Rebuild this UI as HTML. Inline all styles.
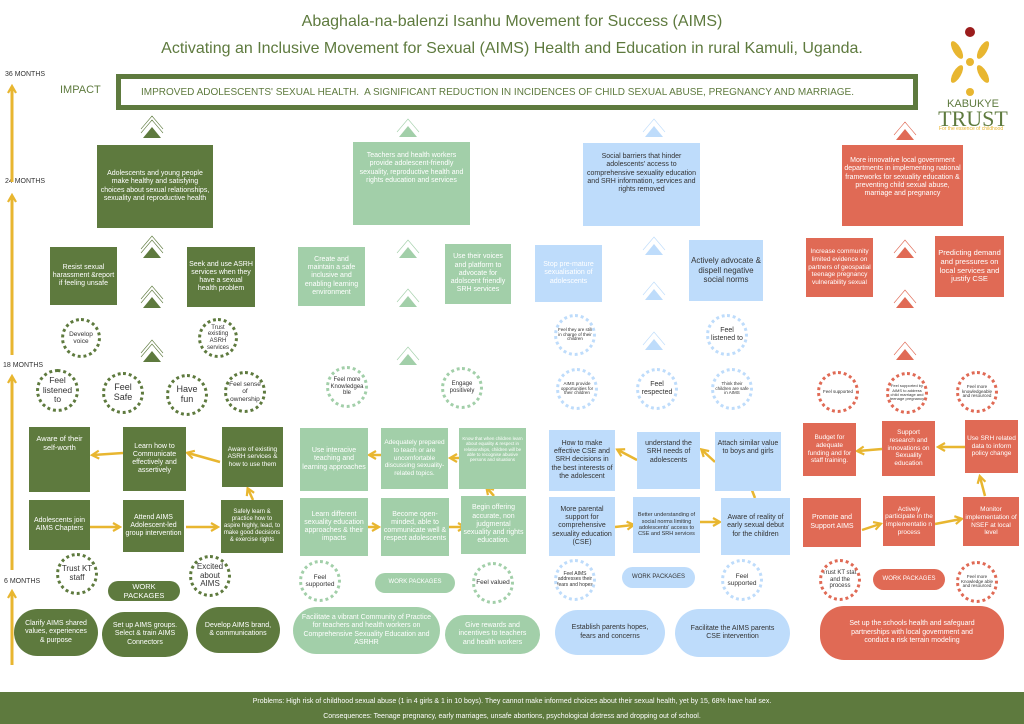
<!DOCTYPE html>
<html><head><meta charset="utf-8"><style>
*{margin:0;padding:0;box-sizing:border-box}
body{width:1024px;height:724px;background:#fff;position:relative;overflow:hidden;font-family:"Liberation Sans Narrow","Liberation Sans",sans-serif}
.b{position:absolute;display:flex;align-items:center;justify-content:center;text-align:center;color:#fff;font-size:7px;line-height:1.18;padding:2px;overflow:hidden}
.g{background:#5e7a3e}.lg{background:#a2cfa9}.bl{background:#bedcfb;color:#333}.r{background:#e06a55}
.c{position:absolute;border-radius:50%;display:flex;align-items:center;justify-content:center;text-align:center;font-size:7px;line-height:1.1;color:#333;border:3px dotted;overflow:hidden}
.cg{border-color:#5e7a3e}.clg{border-color:#a2cfa9}.cbl{border-color:#bedcfb}.cr{border-color:#e06a55}
.p{position:absolute;border-radius:24px;display:flex;align-items:center;justify-content:center;text-align:center;color:#fff;font-size:7px;line-height:1.2;padding:0 8px}
.t{position:absolute;font-size:8px;color:#333}
</style></head><body>
<div style="position:absolute;left:0;width:1024px;top:13px;text-align:center;color:#5e7a3e;font-size:16px">Abaghala-na-balenzi Isanhu Movement for Success (AIMS)</div>
<div style="position:absolute;left:0;width:1024px;top:40px;text-align:center;color:#5e7a3e;font-size:16px">Activating an Inclusive Movement for Sexual (AIMS) Health and Education in rural Kamuli, Uganda.</div>
<div class="t" style="left:5px;top:71px;font-size:7px">36 MONTHS</div>
<div class="t" style="left:60px;top:84px;font-size:11px;color:#5e7a3e">IMPACT</div>
<div style="position:absolute;left:116px;top:74px;width:802px;height:36px;border:5px solid #5e7a3e;display:flex;align-items:center;padding-left:20px;color:#5e7a3e;font-size:10px">IMPROVED ADOLESCENTS' SEXUAL HEALTH.&nbsp; A SIGNIFICANT REDUCTION IN INCIDENCES OF CHILD SEXUAL ABUSE, PREGNANCY AND MARRIAGE.</div>
<div class="t" style="left:5px;top:178px;font-size:7px">24 MONTHS</div>
<div class="t" style="left:3px;top:362px;font-size:7px">18 MONTHS</div>
<div class="t" style="left:4px;top:578px;font-size:7px">6 MONTHS</div>

<svg style="position:absolute;left:0;top:0" width="1024" height="724">
<defs><marker id="a" markerUnits="userSpaceOnUse" markerWidth="10" markerHeight="10" refX="7" refY="5" orient="auto"><path d="M1,1 L8,5 L1,9" fill="none" stroke="#e8b630" stroke-width="2.2"/></marker></defs>
<g stroke="#e8b630" stroke-width="3" fill="none" marker-end="url(#a)">
<line x1="12" y1="182" x2="12" y2="87"/><line x1="12" y1="355" x2="12" y2="196"/><line x1="12" y1="570" x2="12" y2="377"/><line x1="12" y1="665" x2="12" y2="592"/>
</g>
<g stroke="#e8b630" stroke-width="2.5" fill="none" marker-end="url(#a)">
<line x1="90" y1="527" x2="119" y2="527"/><line x1="186" y1="527" x2="217" y2="527"/><line x1="253" y1="500" x2="248" y2="489"/><line x1="220" y1="462" x2="188" y2="453"/><line x1="123" y1="453" x2="93" y2="455"/>
<line x1="368" y1="527" x2="378" y2="527"/><line x1="449" y1="527" x2="464" y2="527"/><line x1="494" y1="496" x2="487" y2="488"/><line x1="459" y1="458" x2="451" y2="458"/><line x1="381" y1="455" x2="370" y2="455"/>
<line x1="615" y1="527" x2="633" y2="525"/><line x1="700" y1="522" x2="719" y2="522"/><line x1="755" y1="498" x2="748" y2="480"/><line x1="715" y1="462" x2="702" y2="450"/><line x1="637" y1="460" x2="618" y2="450"/>
<line x1="862" y1="530" x2="880" y2="524"/><line x1="935" y1="524" x2="961" y2="519"/><line x1="985" y1="496" x2="980" y2="477"/><line x1="965" y1="447" x2="939" y2="447"/><line x1="882" y1="449" x2="858" y2="451"/>
</g>
<g fill="#5e7a3e"><path d="M143,138 L152,127 L161,138Z"/><path d="M143,258 L152,247 L161,258Z"/><path d="M143,308 L152,297 L161,308Z"/><path d="M143,362 L152,351 L161,362Z"/></g>
<path d="M141,133 L152,120 L163,133 M141,129 L152,116 L163,129 M141,253 L152,240 L163,253 M141,249 L152,236 L163,249 M141,303 L152,290 L163,303 M141,299 L152,286 L163,299 M141,357 L152,344 L163,357 M141,353 L152,340 L163,353" fill="none" stroke="#5e7a3e" stroke-width="0.6"/>
<g fill="#a2cfa9"><path d="M399,137 L408,126 L417,137Z"/><path d="M399,258 L408,247 L417,258Z"/><path d="M399,307 L408,296 L417,307Z"/><path d="M399,365 L408,354 L417,365Z"/></g>
<path d="M397,132 L408,119 L419,132 M397,253 L408,240 L419,253 M397,302 L408,289 L419,302 M397,360 L408,347 L419,360" fill="none" stroke="#a2cfa9" stroke-width="0.6"/>
<g fill="#bedcfb"><path d="M645,137 L654,126 L663,137Z"/><path d="M645,255 L654,244 L663,255Z"/><path d="M645,300 L654,289 L663,300Z"/><path d="M645,350 L654,339 L663,350Z"/></g>
<path d="M643,132 L654,119 L665,132 M643,250 L654,237 L665,250 M643,295 L654,282 L665,295 M643,345 L654,332 L665,345" fill="none" stroke="#bedcfb" stroke-width="0.6"/>
<g fill="#e06a55"><path d="M896,140 L905,129 L914,140Z"/><path d="M896,258 L905,247 L914,258Z"/><path d="M896,308 L905,297 L914,308Z"/><path d="M896,360 L905,349 L914,360Z"/></g>
<path d="M894,135 L905,122 L916,135 M894,253 L905,240 L916,253 M894,303 L905,290 L916,303 M894,355 L905,342 L916,355" fill="none" stroke="#e06a55" stroke-width="0.6"/>
<circle cx="970" cy="32" r="5" fill="#9b1c1c"/>
<g fill="#e8b630"><ellipse cx="957" cy="50" rx="4" ry="10" transform="rotate(-30 957 50)"/><ellipse cx="983" cy="50" rx="4" ry="10" transform="rotate(30 983 50)"/><ellipse cx="957" cy="74" rx="4" ry="10" transform="rotate(30 957 74)"/><ellipse cx="983" cy="74" rx="4" ry="10" transform="rotate(-30 983 74)"/><circle cx="970" cy="62" r="4"/><circle cx="970" cy="92" r="4"/></g>
</svg>
<div style="position:absolute;left:940px;top:98px;width:66px;text-align:center;color:#5e7a3e;font-size:11px">KABUKYE</div>
<div style="position:absolute;left:932px;top:106px;width:82px;text-align:center;color:#5e7a3e;font-size:22px;font-family:'Liberation Serif',serif">TRUST</div>
<div style="position:absolute;left:926px;top:126px;width:90px;text-align:center;color:#e8b630;font-size:5px">For the essence of childhood</div>

<!-- col1 -->
<div class="b g" style="left:97px;top:145px;width:116px;height:83px">Adolescents and young people make healthy and satisfying choices about sexual relationships, sexuality and reproductive health</div>
<div class="b g" style="left:50px;top:247px;width:67px;height:58px">Resist sexual harassment &amp;report if feeling unsafe</div>
<div class="b g" style="left:187px;top:247px;width:68px;height:60px">Seek and use ASRH services when they have a sexual health problem</div>
<div class="c cg" style="left:61px;top:318px;width:40px;height:40px;font-size:6.5px">Develop voice</div>
<div class="c cg" style="left:198px;top:318px;width:40px;height:40px;font-size:6px">Trust existing ASRH services</div>
<div class="c cg" style="left:36px;top:369px;width:43px;height:43px;font-size:8.5px">Feel listened to</div>
<div class="c cg" style="left:102px;top:372px;width:42px;height:42px;font-size:9px">Feel Safe</div>
<div class="c cg" style="left:166px;top:374px;width:42px;height:42px;font-size:9px">Have fun</div>
<div class="c cg" style="left:224px;top:371px;width:42px;height:42px;font-size:6.5px">Feel sense of ownership</div>
<div class="b g" style="left:29px;top:427px;width:61px;height:65px;align-items:flex-start;padding-top:8px;font-size:7.5px">Aware of their self-worth</div>
<div class="b g" style="left:123px;top:427px;width:63px;height:64px">Learn how to Communicate effectively and assertively</div>
<div class="b g" style="left:222px;top:427px;width:61px;height:60px;font-size:6.5px">Aware of existing ASRH services &amp; how to use them</div>
<div class="b g" style="left:29px;top:500px;width:61px;height:50px">Adolescents join AIMS Chapters</div>
<div class="b g" style="left:123px;top:500px;width:61px;height:52px">Attend AIMS Adolescent-led group intervention</div>
<div class="b g" style="left:221px;top:500px;width:62px;height:53px;font-size:6px">Safely learn &amp; practice how to aspire highly, lead, to make good decisions &amp; exercise rights</div>
<div class="c cg" style="left:56px;top:553px;width:42px;height:42px;font-size:8px">Trust KT staff</div>
<div class="c cg" style="left:189px;top:555px;width:42px;height:42px;font-size:8px">Excited about AIMS</div>
<div class="p g" style="left:108px;top:581px;width:72px;height:20px;font-size:7.5px">WORK PACKAGES</div>
<div class="p g" style="left:14px;top:609px;width:84px;height:47px">Clarify AIMS shared values, experiences &amp; purpose</div>
<div class="p g" style="left:102px;top:612px;width:86px;height:45px">Set up AIMS groups. Select &amp; train AIMS Connectors</div>
<div class="p g" style="left:196px;top:607px;width:84px;height:46px">Develop AIMS brand, &amp; communications</div>

<!-- col2 -->
<div class="b lg" style="left:353px;top:142px;width:117px;height:83px;align-items:flex-start;padding-top:10px">Teachers and health workers provide adolescent-friendly sexuality, reproductive health and rights education and services</div>
<div class="b lg" style="left:298px;top:247px;width:67px;height:59px">Create and maintain a safe inclusive and enabling learning environment</div>
<div class="b lg" style="left:445px;top:244px;width:66px;height:60px">Use their voices and platform to advocate for adolscent friendly SRH services</div>
<div class="c clg" style="left:326px;top:366px;width:42px;height:42px;font-size:6px">Feel more Knowledgea ble</div>
<div class="c clg" style="left:441px;top:367px;width:42px;height:42px;font-size:6px">Engage positively</div>
<div class="b lg" style="left:300px;top:428px;width:68px;height:63px">Use interacive teaching and learning approaches</div>
<div class="b lg" style="left:381px;top:428px;width:67px;height:61px;font-size:6.5px">Adequately prepared to teach or are uncomfortable discussing sexuality-related topics.</div>
<div class="b lg" style="left:459px;top:428px;width:67px;height:61px;font-size:4.5px;align-items:flex-start;padding-top:8px">Know that when children learn about equality &amp; respect in relationships, children will be able to recognise abusive persons and situations</div>
<div class="b lg" style="left:300px;top:498px;width:68px;height:58px">Learn different sexuality education approaches &amp; their impacts</div>
<div class="b lg" style="left:381px;top:498px;width:68px;height:58px">Become open-minded, able to communicate well &amp; respect adolescents</div>
<div class="b lg" style="left:461px;top:496px;width:65px;height:58px">Begin offering accurate, non judgmental sexuality and rights education.</div>
<div class="c clg" style="left:299px;top:560px;width:42px;height:42px;font-size:6.5px">Feel supported</div>
<div class="p lg" style="left:375px;top:573px;width:80px;height:20px;font-size:6px">WORK PACKAGES</div>
<div class="c clg" style="left:472px;top:562px;width:42px;height:42px;font-size:6.5px">Feel valued</div>
<div class="p lg" style="left:293px;top:607px;width:147px;height:47px">Facilitate a vibrant Community of Practice for teachers and health workers on Comprehensive Sexuality Education and ASRHR</div>
<div class="p lg" style="left:445px;top:615px;width:95px;height:39px">Give rewards and incentives to teachers and health workers</div>

<!-- col3 -->
<div class="b bl" style="left:583px;top:143px;width:117px;height:83px;align-items:flex-start;padding-top:10px">Social barriers that hinder adolescents' access to comprehensive sexuality education and SRH information, services and rights removed</div>
<div class="b bl" style="left:535px;top:245px;width:67px;height:57px;color:#fff">Stop pre-mature sexualisation of adolescents</div>
<div class="b bl" style="left:689px;top:240px;width:74px;height:61px;font-size:8px">Actively advocate &amp; dispell negative social norms</div>
<div class="c cbl" style="left:554px;top:314px;width:42px;height:42px;font-size:4.5px">Feel they are still in charge of their children</div>
<div class="c cbl" style="left:706px;top:314px;width:42px;height:42px;font-size:7px">Feel listened to</div>
<div class="c cbl" style="left:556px;top:368px;width:42px;height:42px;font-size:4.5px">AIMS provide opportunities for their children</div>
<div class="c cbl" style="left:636px;top:368px;width:42px;height:42px;font-size:7px">Feel respected</div>
<div class="c cbl" style="left:711px;top:368px;width:42px;height:42px;font-size:4.5px">Think their children are safe in AIMS</div>
<div class="b bl" style="left:549px;top:430px;width:66px;height:61px">How to make effective CSE and SRH decisions in the best interests of the adolescent</div>
<div class="b bl" style="left:637px;top:432px;width:63px;height:57px;align-items:flex-start;padding-top:8px">understand the SRH needs of adolescents</div>
<div class="b bl" style="left:715px;top:432px;width:66px;height:59px;align-items:flex-start;padding-top:8px">Attach similar value to boys and girls</div>
<div class="b bl" style="left:549px;top:497px;width:66px;height:59px">More parental support for comprehensive sexuality education (CSE)</div>
<div class="b bl" style="left:633px;top:497px;width:67px;height:56px;font-size:5.5px">Better understanding of social norms limiting adolescents' access to CSE and SRH services</div>
<div class="b bl" style="left:721px;top:498px;width:69px;height:57px">Aware of reality of early sexual debut for the children</div>
<div class="c cbl" style="left:554px;top:559px;width:42px;height:42px;font-size:5px">Feel AIMS addresses their fears and hopes</div>
<div class="p bl" style="left:622px;top:567px;width:73px;height:21px;font-size:6px;color:#333">WORK PACKAGES</div>
<div class="c cbl" style="left:721px;top:559px;width:42px;height:42px;font-size:6.5px">Feel supported</div>
<div class="p bl" style="left:555px;top:610px;width:110px;height:45px;color:#333">Establish parents hopes, fears and concerns</div>
<div class="p bl" style="left:675px;top:609px;width:115px;height:48px;color:#333">Facilitate the AIMS parents CSE intervention</div>

<!-- col4 -->
<div class="b r" style="left:842px;top:145px;width:121px;height:81px;align-items:flex-start;padding-top:12px">More innovative local government departments in implementing national frameworks for sexuality education &amp; preventing child sexual abuse, marriage and pregnancy</div>
<div class="b r" style="left:806px;top:238px;width:67px;height:59px;font-size:6.5px">Increase community limited evidence on partners of geospatial teenage pregnancy vulnerability sexual</div>
<div class="b r" style="left:935px;top:236px;width:69px;height:61px;font-size:7.5px">Predicting demand and pressures on local services and justify CSE</div>
<div class="c cr" style="left:817px;top:371px;width:42px;height:42px;font-size:4.5px">Feel supported</div>
<div class="c cr" style="left:886px;top:372px;width:42px;height:42px;font-size:4px">Feel supported by AIMS to address child marriage and teenage pregnancy</div>
<div class="c cr" style="left:956px;top:371px;width:42px;height:42px;font-size:4.5px">Feel more knowledgeable and resourced</div>
<div class="b r" style="left:803px;top:423px;width:53px;height:53px;font-size:6.5px">Budget for adequate funding and for staff training.</div>
<div class="b r" style="left:882px;top:421px;width:53px;height:55px;font-size:6.5px">Support research and innovations on Sexuality education</div>
<div class="b r" style="left:965px;top:420px;width:53px;height:53px;font-size:6.5px">Use SRH related data to inform policy change</div>
<div class="b r" style="left:803px;top:498px;width:58px;height:49px">Promote and Support AIMS</div>
<div class="b r" style="left:883px;top:496px;width:52px;height:50px;font-size:6.5px">Actively participate in the implementatio n process</div>
<div class="b r" style="left:963px;top:497px;width:56px;height:49px;font-size:6.5px">Monitor implementation of NSEF at local level</div>
<div class="c cr" style="left:819px;top:559px;width:42px;height:42px;font-size:6px">Trust KT staff and the process</div>
<div class="p r" style="left:873px;top:569px;width:72px;height:21px;font-size:6px">WORK PACKAGES</div>
<div class="c cr" style="left:956px;top:561px;width:42px;height:42px;font-size:4.5px">Feel more Knowledge able and resourced</div>
<div class="p r" style="left:820px;top:606px;width:184px;height:54px;padding:0 20px">Set up the schools health and safeguard partnerships with local government and conduct a risk terrain modeling</div>

<div style="position:absolute;left:0;top:692px;width:1024px;height:32px;background:#5e7a3e;color:#fff;font-size:7px;text-align:center;line-height:15px;padding-top:2px">Problems: High risk of childhood sexual abuse (1 in 4 girls &amp; 1 in 10 boys). They cannot make informed choices about their sexual health, yet by 15, 68% have had sex.<br>Consequences: Teenage pregnancy, early marriages, unsafe abortions, psychological distress and dropping out of school.</div>
</body></html>
